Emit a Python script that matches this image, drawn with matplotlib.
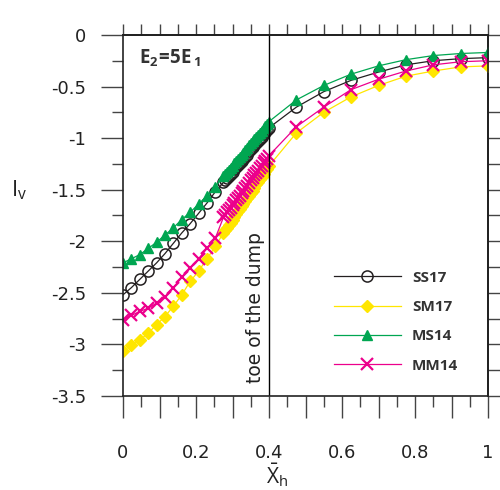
import matplotlib
matplotlib.use("Agg")
import matplotlib.pyplot as plt
from matplotlib.ticker import MultipleLocator, FuncFormatter

plt.rcParams["font.family"] = ["DejaVu Sans"]
plt.rcParams["axes.unicode_minus"] = False
plt.rcParams["mathtext.fontset"] = "custom"
plt.rcParams["mathtext.rm"] = "Open Sans"
plt.rcParams["mathtext.bf"] = "Open Sans:bold"
plt.rcParams["mathtext.it"] = "Open Sans:italic"

# normalised distance along the slope (sparse, dense near the toe, then coarse)
xh = [0.0, 0.023, 0.046, 0.069, 0.092, 0.115, 0.138, 0.161, 0.184, 0.207, 0.230, 0.253,
      0.275, 0.28, 0.285, 0.29, 0.295, 0.30, 0.305, 0.31, 0.315, 0.32, 0.325, 0.33, 0.335,
      0.34, 0.345, 0.35, 0.355, 0.36, 0.365, 0.37, 0.375, 0.38, 0.385, 0.39, 0.395, 0.40,
      0.475, 0.55, 0.625, 0.70, 0.775, 0.85, 0.925, 1.0]

ss17 = [-2.52, -2.45, -2.37, -2.29, -2.21, -2.12, -2.02, -1.92, -1.83, -1.73, -1.63, -1.52,
        -1.43, -1.41, -1.39, -1.37, -1.35, -1.33, -1.30, -1.28, -1.26, -1.24, -1.22, -1.20, -1.18,
        -1.16, -1.13, -1.11, -1.09, -1.07, -1.05, -1.03, -1.01, -0.99, -0.96, -0.94, -0.92, -0.90,
        -0.70, -0.55, -0.44, -0.36, -0.29, -0.25, -0.23, -0.22]

sm17 = [-3.06, -3.01, -2.96, -2.89, -2.81, -2.73, -2.63, -2.52, -2.39, -2.29, -2.17, -2.05,
        -1.92, -1.89, -1.87, -1.84, -1.82, -1.79, -1.77, -1.74, -1.71, -1.69, -1.66, -1.64, -1.61,
        -1.58, -1.56, -1.53, -1.51, -1.48, -1.45, -1.43, -1.40, -1.38, -1.35, -1.32, -1.30, -1.27,
        -0.95, -0.75, -0.60, -0.49, -0.40, -0.35, -0.31, -0.30]

ms14 = [-2.21, -2.17, -2.13, -2.07, -2.01, -1.94, -1.87, -1.79, -1.72, -1.64, -1.56, -1.47,
        -1.37, -1.35, -1.33, -1.31, -1.29, -1.27, -1.24, -1.22, -1.20, -1.18, -1.16, -1.14, -1.12,
        -1.10, -1.07, -1.05, -1.03, -1.01, -0.99, -0.97, -0.95, -0.93, -0.90, -0.88, -0.86, -0.84,
        -0.63, -0.49, -0.38, -0.30, -0.24, -0.20, -0.18, -0.17]

mm14 = [-2.76, -2.72, -2.68, -2.65, -2.60, -2.54, -2.45, -2.35, -2.26, -2.17, -2.07, -1.97,
        -1.77, -1.75, -1.72, -1.70, -1.68, -1.65, -1.63, -1.60, -1.58, -1.56, -1.53, -1.51, -1.48,
        -1.46, -1.44, -1.41, -1.39, -1.36, -1.34, -1.32, -1.29, -1.27, -1.24, -1.22, -1.20, -1.17,
        -0.89, -0.70, -0.53, -0.43, -0.35, -0.29, -0.26, -0.25]

BLACK = "#231f20"
YELLOW = "#ffe600"
GREEN = "#00a651"
MAGENTA = "#ec008c"

fig = plt.figure(figsize=(5.0, 4.9), dpi=100)
ax = fig.add_axes([0.246, 0.192, 0.730, 0.7367])

ax.plot(xh, ss17, color=BLACK, lw=0.9, marker="o", ms=8, mfc="none", mec=BLACK, mew=1.1, label="SS17")
ax.plot(xh, sm17, color=YELLOW, lw=0.9, marker="D", ms=6, mfc=YELLOW, mec=YELLOW, label="SM17")
ax.plot(xh, ms14, color=GREEN, lw=0.9, marker="^", ms=7, mfc=GREEN, mec=GREEN, label="MS14")
ax.plot(xh, mm14, color=MAGENTA, lw=0.9, marker="x", ms=8, mew=1.6, label="MM14")

ax.axvline(0.4, color="black", lw=1.0)

ax.set_xlim(0, 1)
ax.set_ylim(-3.5, 0)

# bottom / left ticks
ax.xaxis.set_major_locator(MultipleLocator(0.1))
ax.xaxis.set_minor_locator(MultipleLocator(0.05))
ax.xaxis.set_major_formatter(FuncFormatter(
    lambda v, p: ("%g" % round(v, 2)) if abs(round(v * 10) % 2) < 1e-9 else ""))
ax.yaxis.set_major_locator(MultipleLocator(0.5))
ax.yaxis.set_minor_locator(MultipleLocator(0.25))
ax.yaxis.set_major_formatter(FuncFormatter(lambda v, p: "%g" % round(v, 2)))
ax.tick_params(which="major", direction="out", length=15.7, width=1.0, color="#444444",
               labelsize=13, labelcolor="#222222")
ax.tick_params(axis="x", which="major", pad=19)
ax.tick_params(axis="y", which="major", pad=11)
ax.tick_params(which="minor", direction="out", length=7.8, width=1.0, color="#444444")

# top / right ticks
top = ax.secondary_xaxis("top")
top.xaxis.set_major_locator(MultipleLocator(0.05))
top.tick_params(direction="out", length=8, width=1.0, color="#444444", labeltop=False)
top.spines["top"].set_linewidth(1.2)
right = ax.secondary_yaxis("right")
right.yaxis.set_major_locator(MultipleLocator(0.25))
right.tick_params(direction="out", length=9, width=1.0, color="#444444", labelright=False)
right.spines["right"].set_linewidth(1.2)

for s in ax.spines.values():
    s.set_linewidth(1.2)
    s.set_color("#222222")

ax.text(0.364, -3.37, "toe of the dump", rotation=90, ha="center", va="bottom",
        fontsize=13.5, color="#222222")
ax.text(0.045, 0.965, r"$\mathbf{E_2\!=\!5E\,_1}$", transform=ax.transAxes,
        ha="left", va="top", fontsize=13.5, color="#333333")

fig.text(277 / 500, 1 - 475 / 490, r"$\bar{\mathrm{X}}_{\mathrm{h}}$", ha="center", va="center",
         fontsize=15, color="#222222")
fig.text(19 / 500, 1 - 190 / 490, r"$\mathrm{I}_{\mathrm{v}}$", ha="center", va="center",
         fontsize=16, color="#222222")

leg = ax.legend(loc="upper left", bbox_to_anchor=(0.54, 0.385), frameon=False, numpoints=1,
                handlelength=4.4, handletextpad=0.7, labelspacing=1.0,
                prop={"family": "Open Sans", "weight": "bold", "size": 11})
for t in leg.get_texts():
    t.set_color("#333333")

fig.savefig("out.png", dpi=100)
